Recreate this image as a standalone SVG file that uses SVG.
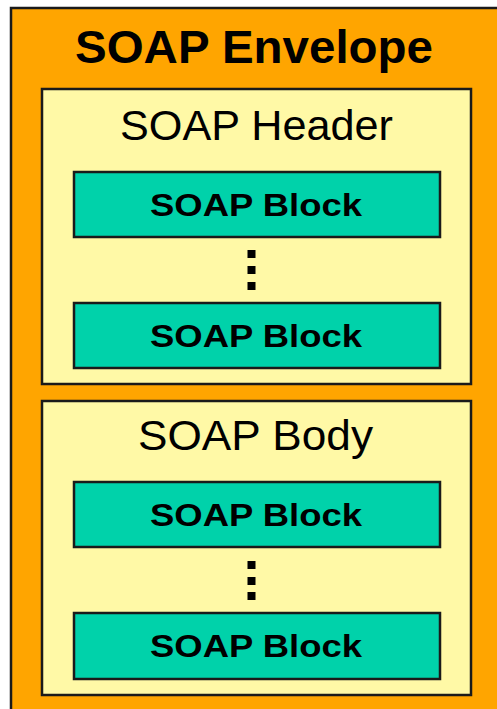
<svg xmlns="http://www.w3.org/2000/svg" width="497" height="709" viewBox="0 0 497 709">
<style>
.env{fill:#FFA500;stroke:#1a1a1a;stroke-width:2.5}
.sec{fill:#FFF9A6;stroke:#1a1a1a;stroke-width:2.5}
.blk{fill:#00D2AA;stroke:#1a1a1a;stroke-width:2.5}
.t{font-family:"Liberation Sans",Arial,sans-serif;fill:#000;text-anchor:middle}
.tb{font-weight:bold;font-size:32px}
.dot{fill:#000}
</style>
<rect width="497" height="709" fill="#fff"/>
<g id="envelope">
<rect class="env" x="11" y="8" width="500" height="720"/>
<text class="t" x="254" y="63" font-size="47" font-weight="bold" textLength="358" lengthAdjust="spacingAndGlyphs">SOAP Envelope</text>
</g>
<g id="header">
<rect class="sec" x="42" y="89" width="429" height="295"/>
<text class="t" x="256.5" y="140" font-size="43" textLength="273" lengthAdjust="spacingAndGlyphs">SOAP Header</text>
</g>
<g id="header-block-1">
<rect class="blk" x="74" y="172" width="366" height="65"/>
<text class="t tb" x="256" y="216" textLength="212" lengthAdjust="spacingAndGlyphs">SOAP Block</text>
</g>
<g id="header-dots">
<rect class="dot" x="247.5" y="250" width="8" height="8"/>
<rect class="dot" x="247.5" y="266" width="8" height="8"/>
<rect class="dot" x="247.5" y="282" width="8" height="8"/>
</g>
<g id="header-block-2">
<rect class="blk" x="74" y="303" width="366" height="65"/>
<text class="t tb" x="256" y="347" textLength="212" lengthAdjust="spacingAndGlyphs">SOAP Block</text>
</g>
<g id="body">
<rect class="sec" x="42" y="401" width="429" height="294"/>
<text class="t" x="255.5" y="450" font-size="43" textLength="235" lengthAdjust="spacingAndGlyphs">SOAP Body</text>
</g>
<g id="body-block-1">
<rect class="blk" x="74" y="482" width="366" height="65"/>
<text class="t tb" x="256" y="526" textLength="212" lengthAdjust="spacingAndGlyphs">SOAP Block</text>
</g>
<g id="body-dots">
<rect class="dot" x="247.5" y="561" width="8" height="8"/>
<rect class="dot" x="247.5" y="577" width="8" height="8"/>
<rect class="dot" x="247.5" y="592" width="8" height="8"/>
</g>
<g id="body-block-2">
<rect class="blk" x="74" y="613" width="366" height="66"/>
<text class="t tb" x="256" y="657" textLength="212" lengthAdjust="spacingAndGlyphs">SOAP Block</text>
</g>
<g id="connectors"/>
</svg>
